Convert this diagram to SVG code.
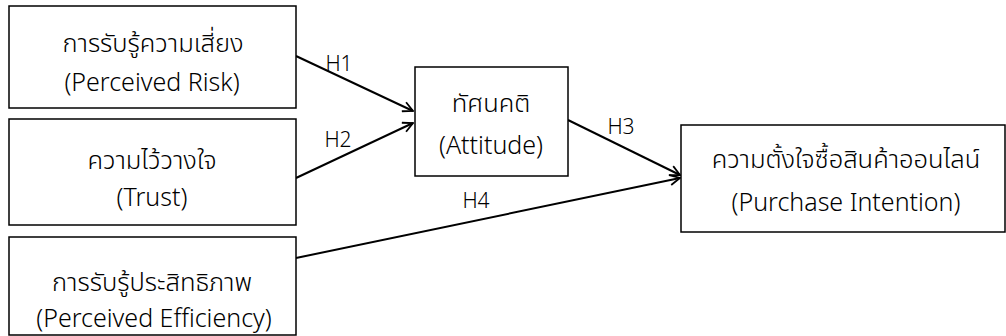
<svg xmlns="http://www.w3.org/2000/svg" width="1006" height="336" viewBox="0 0 1006 336">
<style>
.box{fill:#fff;stroke:#000;stroke-width:1.5}
.th{font-family:"Noto Sans Thai","Noto Sans","Liberation Sans",sans-serif;font-size:25.5px;font-weight:300;fill:#000;text-anchor:middle}
.t{font-family:"Noto Sans","Liberation Sans",sans-serif;font-size:25px;font-weight:300;fill:#000;text-anchor:middle}
.lbl{font-family:"Noto Sans","Liberation Sans",sans-serif;font-size:21px;font-weight:300;fill:#000;text-anchor:middle}
.c{stroke:#000;stroke-width:2;fill:none}
</style>
<defs>
<marker id="arr" viewBox="0 0 12 12" refX="11" refY="6" markerWidth="12" markerHeight="12" markerUnits="userSpaceOnUse" orient="auto">
<path d="M1,1 L11,6 L1,11" fill="none" stroke="#000" stroke-width="1.8"/>
</marker>
</defs>
<rect width="1006" height="336" fill="#fff"/>
<g id="connectors">
<line class="c" x1="296" y1="56" x2="413" y2="111" marker-end="url(#arr)"/>
<line class="c" x1="296" y1="178" x2="413" y2="123" marker-end="url(#arr)"/>
<line class="c" x1="568" y1="120" x2="680" y2="175" marker-end="url(#arr)"/>
<line class="c" x1="296" y1="258" x2="680" y2="178" marker-end="url(#arr)"/>
<text class="lbl" x="339" y="71">H1</text>
<text class="lbl" x="338" y="147">H2</text>
<text class="lbl" x="621" y="134">H3</text>
<text class="lbl" x="476" y="208">H4</text>
</g>
<g id="risk">
<rect class="box" x="9" y="6" width="287" height="102"/>
<text class="th" x="153" y="52">การรับรู้ความเสี่ยง</text>
<text class="t" x="152" y="91">(Perceived Risk)</text>
</g>
<g id="trust">
<rect class="box" x="9" y="119" width="287" height="106"/>
<text class="th" x="152" y="169">ความไว้วางใจ</text>
<text class="t" x="152" y="206">(Trust)</text>
</g>
<g id="efficiency">
<rect class="box" x="9" y="237" width="287" height="98"/>
<text class="th" x="152" y="291">การรับรู้ประสิทธิภาพ</text>
<text class="t" x="154" y="327">(Perceived Efficiency)</text>
</g>
<g id="attitude">
<rect class="box" x="415" y="67" width="153" height="109"/>
<text class="th" x="491" y="112">ทัศนคติ</text>
<text class="t" x="491" y="154">(Attitude)</text>
</g>
<g id="intention">
<rect class="box" x="681" y="125" width="324" height="107"/>
<text class="th" x="846" y="168">ความตั้งใจซื้อสินค้าออนไลน์</text>
<text class="t" x="846" y="211">(Purchase Intention)</text>
</g>
</svg>
